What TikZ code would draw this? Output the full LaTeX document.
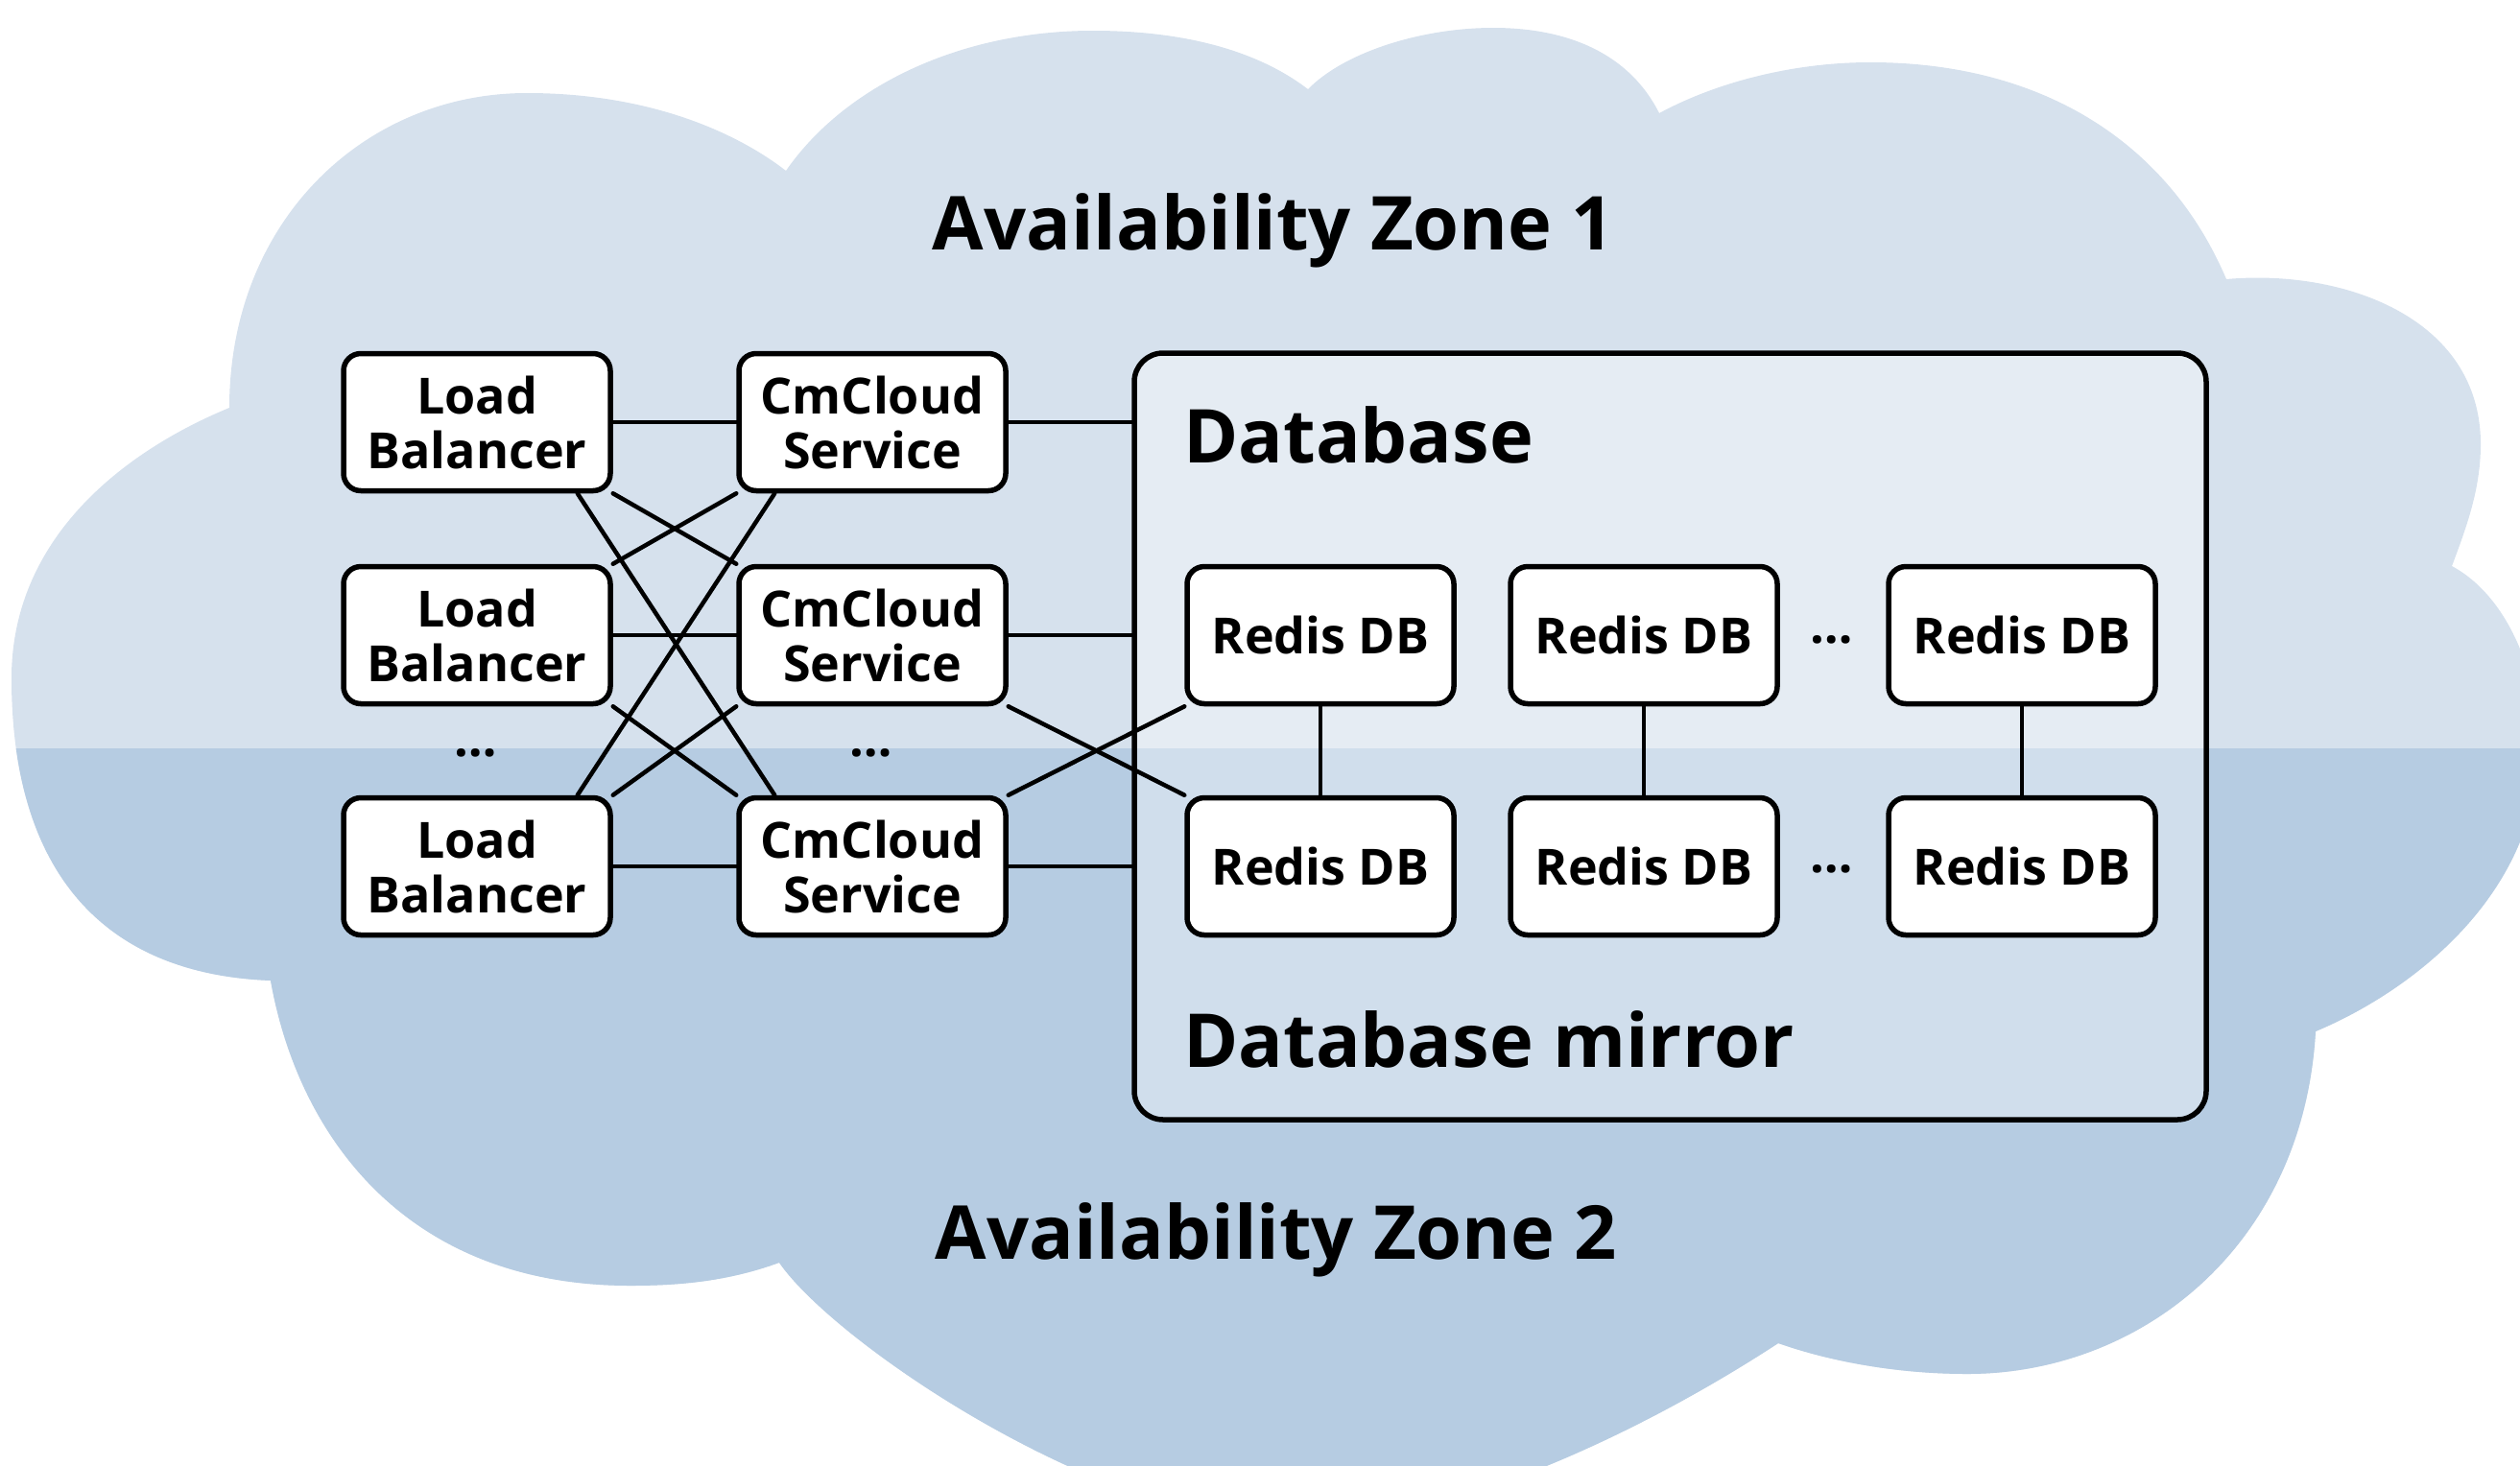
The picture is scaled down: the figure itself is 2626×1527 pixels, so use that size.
\documentclass[tikz,border=0pt]{standalone}
\usepackage{fontspec}
\setmainfont{Open Sans}
\usetikzlibrary{calc}
\pgfdeclarelayer{back}
\pgfdeclarelayer{mid}
\pgfsetlayers{back,mid,main}
\definecolor{zoneA}{HTML}{D6E1ED}
\definecolor{zoneB}{HTML}{B6CCE2}
\newcommand\boxfont{\fontsize{52}{57}\selectfont\bfseries}
\newcommand\bigfont{\fontsize{77.5}{88}\selectfont\bfseries}
\newcommand\cloudshape{(239,425)
 .. controls (239,230) and (380,97) .. (549,97)
 .. controls (680,97) and (770,140) .. (819,178)
 .. controls (880,90) and (1000,32) .. (1139,32)
 .. controls (1250,32) and (1320,60) .. (1363,93)
 .. controls (1400,55) and (1480,29) .. (1556,29)
 .. controls (1640,29) and (1700,60) .. (1729,118)
 .. controls (1790,85) and (1870,65) .. (1949,65)
 .. controls (2130,65) and (2260,150) .. (2320,291)
 .. controls (2440,280) and (2585,330) .. (2585,463)
 .. controls (2585,510) and (2570,550) .. (2555,590)
 .. controls (2620,625) and (2650,720) .. (2645,790)
 .. controls (2640,930) and (2520,1030) .. (2413,1075)
 .. controls (2400,1300) and (2230,1432) .. (2050,1432)
 .. controls (1980,1432) and (1910,1420) .. (1853,1400)
 .. controls (1700,1500) and (1500,1590) .. (1350,1590)
 .. controls (1150,1590) and (870,1400) .. (812,1316)
 .. controls (760,1335) and (710,1340) .. (657,1340)
 .. controls (420,1340) and (310,1180) .. (282,1022)
 .. controls (100,1015) and (12,900) .. (12,707)
 .. controls (12,560) and (130,470) .. (239,425) -- cycle}
\tikzset{
  box/.style={draw, line width=5.5pt, fill=white, rounded corners=18pt,
    minimum width=278pt, minimum height=143pt, inner sep=0pt,
    align=center, font=\boxfont},
  dbbox/.style={draw, line width=5.5pt, fill=white, fill opacity=0.37,
    rounded corners=30pt, minimum width=1117pt, minimum height=799pt, inner sep=0pt},
  conn/.style={line width=4.5pt, line cap=round},
  bigtext/.style={inner sep=0pt, font=\bigfont},
  dots/.style={inner sep=0pt, font=\boxfont}
}
\begin{document}
\begin{tikzpicture}[x=1pt, y=-1pt]
\useasboundingbox (0,0) rectangle (2626,1527);
\begin{pgfonlayer}{back}
  \clip (0,0) rectangle (2626,1527);
  \fill[zoneA] \cloudshape;
  \begin{scope}
    \clip (0,780) rectangle (2626,1600);
    \fill[zoneB] \cloudshape;
  \end{scope}
\end{pgfonlayer}

% titles
\node[bigtext, anchor=base] (zone1) at (1327,260) {Availability Zone 1};
\node[bigtext, anchor=base] (zone2) at (1330,1312) {Availability Zone 2};

% load balancers
\node[box] (LB1) at (497,440) {Load\\Balancer};
\node[box] (LB2) at (497,662) {Load\\Balancer};
\node[box] (LB3) at (497,903) {Load\\Balancer};
% services
\node[box] (CS1) at (909,440) {CmCloud\\Service};
\node[box] (CS2) at (909,662) {CmCloud\\Service};
\node[box] (CS3) at (909,903) {CmCloud\\Service};
% redis
\node[box] (R11) at (1376,662) {Redis DB};
\node[box] (R12) at (1713,662) {Redis DB};
\node[box] (R13) at (2107,662) {Redis DB};
\node[box] (R21) at (1376,903) {Redis DB};
\node[box] (R22) at (1713,903) {Redis DB};
\node[box] (R23) at (2107,903) {Redis DB};

\node[dots] (dLB) at (496,785) {…};
\node[dots] (dCS) at (908,785) {…};
\node[dots] (dR1) at (1909,667) {…};
\node[dots] (dR2) at (1909,906) {…};

\node[bigtext, anchor=base west] (dbt) at (1233,482) {Database};
\node[bigtext, anchor=base west] (dbm) at (1233,1112) {Database mirror};

\begin{pgfonlayer}{mid}
  \node[dbbox] (DB) at (1740.5,767.5) {};
  % LB to CS
  \draw[conn] (LB1.east) -- (CS1.west);
  \draw[conn] (LB2.east) -- (CS2.west);
  \draw[conn] (LB3.east) -- (CS3.west);
  \draw[conn] (LB1.south east) -- (CS2.north west);
  \draw[conn] (LB2.north east) -- (CS1.south west);
  \draw[conn] (LB2.south east) -- (CS3.north west);
  \draw[conn] (LB3.north east) -- (CS2.south west);
  \draw[conn] ($(LB1.south east)+(-37,0)$) -- ($(CS3.north west)+(40,0)$);
  \draw[conn] ($(LB3.north east)+(-37,0)$) -- ($(CS1.south west)+(40,0)$);
  % CS to database
  \draw[conn] (CS1.east) -- (CS1.east -| DB.west);
  \draw[conn] (CS2.east) -- (CS2.east -| DB.west);
  \draw[conn] (CS3.east) -- (CS3.east -| DB.west);
  \draw[conn] (CS2.south east) -- (R21.north west);
  \draw[conn] (CS3.north east) -- (R11.south west);
  % mirror links
  \draw[conn] (R11.south) -- (R21.north);
  \draw[conn] (R12.south) -- (R22.north);
  \draw[conn] (R13.south) -- (R23.north);
\end{pgfonlayer}
\end{tikzpicture}
\end{document}
